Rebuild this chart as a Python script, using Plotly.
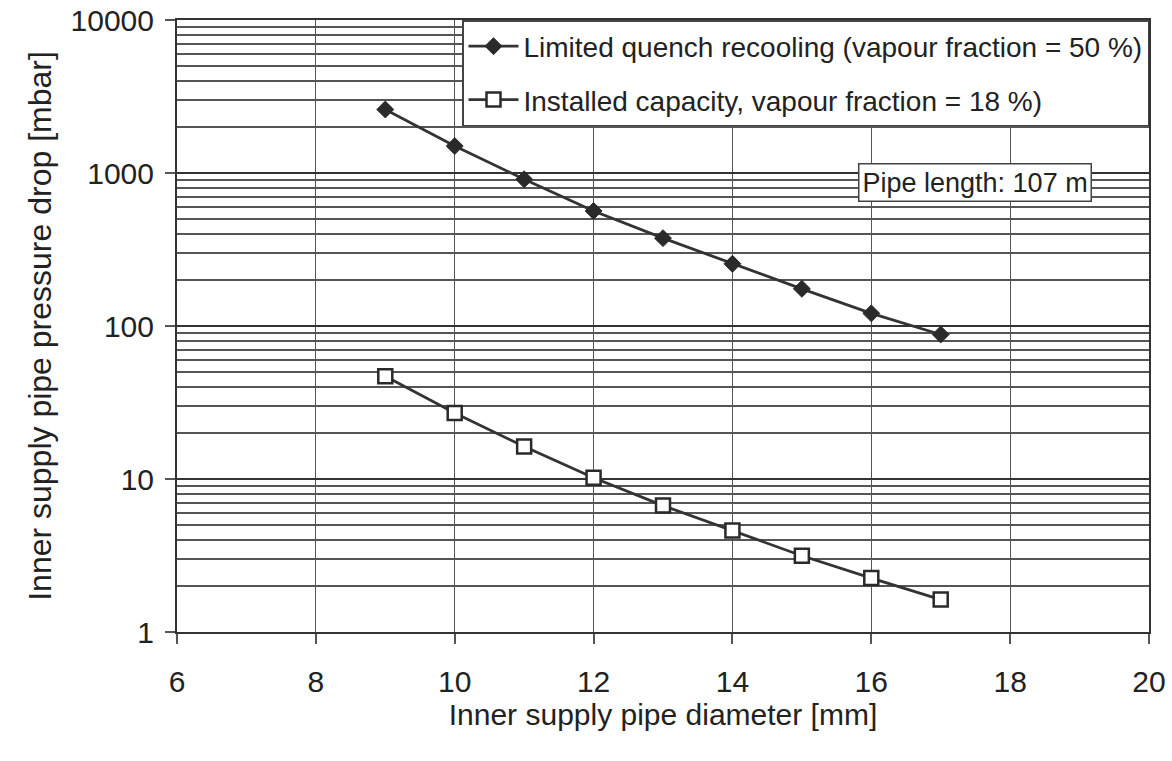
import plotly.graph_objects as go

diameter_mm = [9, 10, 11, 12, 13, 14, 15, 16, 17]
quench_mbar = [2600, 1500, 910, 565, 375, 255, 175, 121, 88]
installed_mbar = [47, 27, 16.3, 10.2, 6.7, 4.6, 3.15, 2.25, 1.63]

x_ticks = [6, 8, 10, 12, 14, 16, 18, 20]
y_ticks = [1, 10, 100, 1000, 10000]
y_ticktext = ["1", "10", "100", "1000", "10000"]
y_minor = [m * 10 ** d for d in range(4) for m in range(2, 10)]

FONT = "Liberation Sans, Arial, Helvetica, sans-serif"
LINE = "#333333"
GRID = "#555555"

fig = go.Figure()
fig.add_trace(go.Scatter(
    x=diameter_mm, y=quench_mbar, mode="lines+markers",
    name="Limited quench recooling (vapour fraction = 50 %)",
    legendgroup="a",
    line=dict(color=LINE, width=2.8),
    marker=dict(symbol="diamond", size=13, color="#2a2a2a", line=dict(color="#2a2a2a", width=1)),
))
fig.add_trace(go.Scatter(
    x=diameter_mm, y=installed_mbar, mode="lines+markers",
    name="Installed capacity, vapour fraction = 18 %)",
    legendgroup="b",
    line=dict(color=LINE, width=2.8),
    marker=dict(symbol="square", size=14, color="white", line=dict(color="#2a2a2a", width=2.5)),
))

fig.add_annotation(
    x=0.821, y=0.735, xref="paper", yref="paper", xanchor="center", yanchor="middle",
    text="Pipe length: 107 m", showarrow=False,
    font=dict(family=FONT, size=27, color="#222"),
    bgcolor="white", bordercolor="#444", borderwidth=1.5, borderpad=3,
)

fig.update_layout(
    width=1172, height=761,
    margin=dict(l=177, r=23, t=20, b=129),
    paper_bgcolor="white", plot_bgcolor="white",
    font=dict(family=FONT, size=30, color="#222"),
    showlegend=True,
    legend=dict(
        x=1.0, y=1.0, xanchor="right", yanchor="top",
        bgcolor="white", bordercolor="#444", borderwidth=1.5,
        font=dict(family=FONT, size=28, color="#222"),
        itemwidth=50, tracegroupgap=14,
    ),
    xaxis=dict(
        range=[6, 20], tickvals=x_ticks, ticks="outside", ticklen=10, tickwidth=1.5,
        tickcolor=GRID, showgrid=True, gridcolor=GRID, gridwidth=1,
        showline=True, linecolor="#333", linewidth=2, mirror=True,
        zeroline=False, tickfont=dict(size=30), ticklabelstandoff=12,
        ticklabeloverflow="allow", automargin=False,
        title=dict(text="Inner supply pipe diameter [mm]", font=dict(size=30), standoff=7),
    ),
    yaxis=dict(
        type="log", range=[0, 4], tickvals=y_ticks, ticktext=y_ticktext,
        ticks="outside", ticklen=10, tickwidth=1.5, tickcolor=GRID,
        showgrid=True, gridcolor="#333", gridwidth=2,
        minor=dict(tickvals=y_minor, showgrid=True, gridcolor=GRID, gridwidth=1.5, ticks=""),
        showline=True, linecolor="#333", linewidth=2, mirror=True,
        zeroline=False, tickfont=dict(size=30), ticklabelstandoff=5,
        ticklabeloverflow="allow", automargin=False,
        title=dict(text="Inner supply pipe pressure drop [mbar]", font=dict(size=32), standoff=9),
    ),
)

fig.write_html(
    "out.html",
    config={"displayModeBar": False},
    post_script="document.body.style.margin='0';",
)
